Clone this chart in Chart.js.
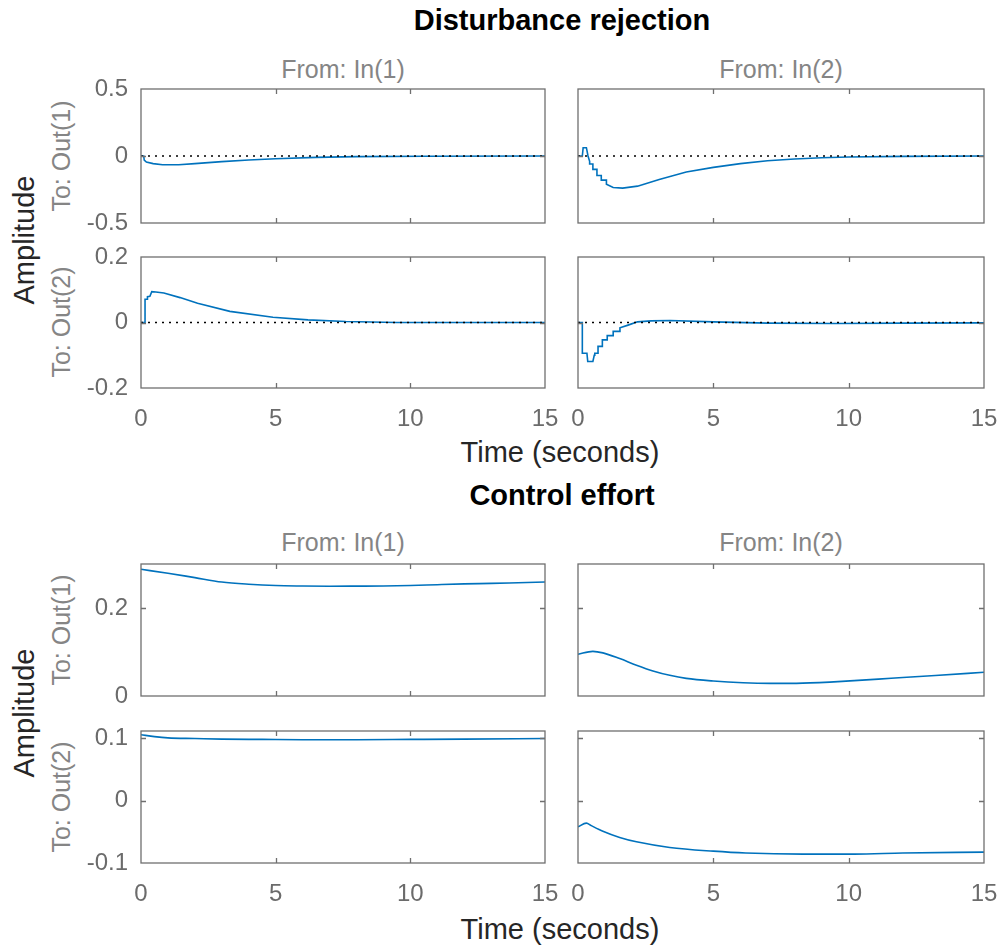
<!DOCTYPE html>
<html>
<head>
<meta charset="utf-8">
<script src="https://cdn.jsdelivr.net/npm/chart.js@4.4.1/dist/chart.umd.min.js"></script>
<style>
  body { margin: 0; background: #fff; width: 1001px; height: 948px; position: relative; overflow: hidden;
         font-family: "Liberation Sans", Arial, sans-serif; }
  canvas { position: absolute; }
  .t { position: absolute; white-space: nowrap; line-height: 1; transform: translate(-50%, -50%); }
  .rot { transform: translate(-50%, -50%) rotate(-90deg); }
  .title { font-weight: bold; font-size: 29px; color: #000; }
  .from { font-size: 25px; color: #858585; }
  .lab { font-size: 29px; color: #262626; }
</style>
</head>
<body>

<div class="t title" style="left:562px;top:20px">Disturbance rejection</div>
<div class="t from" style="left:343px;top:69px">From: In(1)</div>
<div class="t from" style="left:781px;top:69px">From: In(2)</div>
<div class="t from rot" style="left:61px;top:156px">To: Out(1)</div>
<div class="t from rot" style="left:61px;top:322px">To: Out(2)</div>
<div class="t lab rot" style="left:24px;top:240px">Amplitude</div>
<div class="t lab" style="left:560px;top:452px">Time (seconds)</div>

<div class="t title" style="left:562px;top:495px">Control effort</div>
<div class="t from" style="left:343px;top:542px">From: In(1)</div>
<div class="t from" style="left:781px;top:542px">From: In(2)</div>
<div class="t from rot" style="left:61px;top:630px">To: Out(1)</div>
<div class="t from rot" style="left:61px;top:797px">To: Out(2)</div>
<div class="t lab rot" style="left:24px;top:713px">Amplitude</div>
<div class="t lab" style="left:560px;top:929px">Time (seconds)</div>

<script>
// ---- ticks ----
const timeTicks = [0, 5, 10, 15];
const yTicksDist1 = [-0.5, 0, 0.5];
const yTicksDist2 = [-0.2, 0, 0.2];
const yTicksEff1 = [0, 0.2];
const yTicksEff2 = [-0.1, 0, 0.1];

// dotted zero reference
const zeroT = [0, 15];
const zeroY = [0, 0];

// ---- Disturbance rejection ----
// Out(1) <- In(1)
const tDist11 = [0, 0.1, 0.12, 0.2, 0.45, 0.8, 1.4, 2, 3, 4, 5, 6.5, 8, 10.5, 15];
const yDist11 = [0, 0, -0.03, -0.045, -0.057, -0.065, -0.065, -0.057, -0.042, -0.03, -0.02, -0.01, -0.005, -0.002, 0];
// Out(1) <- In(2)
const tDist12 = [0, 0.16, 0.19, 0.31, 0.37, 0.43, 0.43, 0.55, 0.55, 0.7, 0.7, 0.86, 0.86, 1.05, 1.05, 1.3, 1.65, 2.2, 3, 4, 5, 6, 7, 8, 9, 10, 12, 15];
const yDist12 = [0, 0, 0.062, 0.062, 0, -0.04, -0.06, -0.06, -0.1, -0.1, -0.145, -0.145, -0.18, -0.18, -0.21, -0.235, -0.24, -0.225, -0.175, -0.12, -0.085, -0.057, -0.036, -0.022, -0.013, -0.008, -0.003, 0];
// Out(2) <- In(1)
const tDist21 = [0, 0.15, 0.15, 0.24, 0.24, 0.33, 0.4, 0.55, 0.85, 1.45, 2.1, 3.3, 4.9, 6.2, 7.6, 9.5, 15];
const yDist21 = [0, 0, 0.071, 0.071, 0.079, 0.08, 0.094, 0.093, 0.09, 0.076, 0.059, 0.034, 0.016, 0.008, 0.003, 0, 0];
// Out(2) <- In(2)
const tDist22 = [0, 0.16, 0.16, 0.33, 0.36, 0.55, 0.6, 0.62, 0.74, 0.74, 0.9, 0.9, 1.08, 1.08, 1.3, 1.3, 1.55, 1.55, 1.85, 2.2, 2.7, 3.4, 5, 7, 9.5, 12, 15];
const yDist22 = [0, 0, -0.094, -0.094, -0.119, -0.119, -0.1, -0.094, -0.094, -0.073, -0.073, -0.053, -0.053, -0.04, -0.04, -0.027, -0.027, -0.016, -0.008, 0.002, 0.005, 0.006, 0.002, -0.002, -0.003, -0.002, -0.001];

// ---- Control effort ----
const tEff11 = [0, 1, 2, 3, 4, 5, 6, 7, 8, 9, 10, 11, 12, 13, 14, 15];
const yEff11 = [0.288, 0.279, 0.269, 0.259, 0.254, 0.251, 0.25, 0.2495, 0.2497, 0.25, 0.251, 0.253, 0.2548, 0.256, 0.2575, 0.259];
const tEff12 = [0, 0.55, 0.92, 1.54, 2.16, 2.77, 3.39, 4, 5, 6.1, 7.1, 8.3, 9.9, 11.1, 12, 13.2, 15];
const yEff12 = [0.095, 0.1015, 0.098, 0.085, 0.07, 0.057, 0.047, 0.04, 0.034, 0.03, 0.0286, 0.0293, 0.0338, 0.0383, 0.042, 0.0466, 0.054];
const tEff21 = [0, 0.5, 1, 2, 3, 4.5, 6, 8, 10, 12, 15];
const yEff21 = [0.106, 0.103, 0.101, 0.1, 0.099, 0.0985, 0.098, 0.098, 0.0985, 0.099, 0.1];
const tEff22 = [0, 0.31, 0.49, 0.92, 1.54, 2.16, 3.39, 5, 6.2, 8.3, 10.2, 12, 15];
const yEff22 = [-0.042, -0.036, -0.04, -0.049, -0.059, -0.066, -0.075, -0.081, -0.084, -0.0857, -0.0857, -0.084, -0.0825];

// ---- layout (pixels) ----
const colX = [[141, 545], [578, 984]];
const rowY = [[89, 223], [257, 388], [564, 696], [731, 863]];
// paddings are bigger than the label overflow chart.js reserves (half label + tick padding)
const AXW = 100, PT = 32, PR = 36, AXH = 50;

const blue = "#0072BD";
const axisGray = "#6f6f6f";

function pts(t, y) {
  return t.map((v, i) => ({ x: v, y: y[i] }));
}

const boxPlugin = {
  id: "matlabBox",
  afterDatasetsDraw(chart) {
    const { ctx, chartArea: a, scales } = chart;
    const tl = 5;
    ctx.save();
    ctx.strokeStyle = axisGray;
    ctx.lineWidth = 1.3;
    ctx.beginPath();
    scales.x.ticks.forEach(tk => {
      const px = Math.round(scales.x.getPixelForValue(tk.value)) + 0.5;
      if (px <= a.left + 1 || px >= a.right - 1) return;
      ctx.moveTo(px, a.top); ctx.lineTo(px, a.top + tl);
      ctx.moveTo(px, a.bottom); ctx.lineTo(px, a.bottom - tl);
    });
    scales.y.ticks.forEach(tk => {
      const py = Math.round(scales.y.getPixelForValue(tk.value)) + 0.5;
      if (py <= a.top + 1 || py >= a.bottom - 1) return;
      ctx.moveTo(a.left, py); ctx.lineTo(a.left + tl, py);
      ctx.moveTo(a.right, py); ctx.lineTo(a.right - tl, py);
    });
    ctx.stroke();
    ctx.strokeRect(a.left, a.top, a.right - a.left, a.bottom - a.top);
    ctx.restore();
  }
};

function makeChart(col, row, t, y, yMin, yMax, yTicks, showX, withZero, smooth) {
  const [x0, x1] = colX[col];
  const [y0, y1] = rowY[row];
  const cv = document.createElement("canvas");
  cv.width = AXW + (x1 - x0) + PR;
  cv.height = PT + (y1 - y0) + AXH;
  cv.style.left = (x0 - AXW) + "px";
  cv.style.top = (y0 - PT) + "px";
  document.body.appendChild(cv);

  const datasets = [{
    data: pts(t, y),
    borderColor: blue,
    borderWidth: 1.6,
    pointRadius: 0,
    tension: smooth ? 0.4 : 0,
    cubicInterpolationMode: smooth ? "monotone" : "default",
    fill: false
  }];
  if (withZero) {
    datasets.unshift({
      data: pts(zeroT, zeroY),
      borderColor: "#000",
      borderWidth: 1.3,
      borderDash: [2, 5],
      pointRadius: 0,
      fill: false
    });
  }

  new Chart(cv.getContext("2d"), {
    type: "line",
    data: { datasets: datasets },
    options: {
      responsive: false,
      animation: false,
      events: [],
      layout: { padding: { left: 0, top: PT, right: PR, bottom: 0 } },
      plugins: { legend: { display: false }, tooltip: { enabled: false } },
      scales: {
        x: {
          type: "linear",
          min: 0, max: 15,
          afterBuildTicks: s => { s.ticks = timeTicks.map(v => ({ value: v })); },
          afterFit: s => { s.height = AXH; },
          grid: { display: false, drawTicks: false },
          border: { display: false },
          ticks: {
            display: showX,
            padding: 17,
            maxRotation: 0,
            autoSkip: false,
            color: "#6b6b6b",
            font: { family: "Liberation Sans", size: 24 },
            callback: v => String(v)
          }
        },
        y: {
          type: "linear",
          min: yMin, max: yMax,
          afterBuildTicks: s => { s.ticks = yTicks.map(v => ({ value: v })); },
          afterFit: s => { s.width = AXW; },
          grid: { display: false, drawTicks: false },
          border: { display: false },
          ticks: {
            display: col === 0,
            padding: 13,
            color: "#6b6b6b",
            font: { family: "Liberation Sans", size: 24 },
            callback: v => String(v)
          }
        }
      }
    },
    plugins: [boxPlugin]
  });
}

// Disturbance rejection
makeChart(0, 0, tDist11, yDist11, -0.5, 0.5, yTicksDist1, false, true, false);
makeChart(1, 0, tDist12, yDist12, -0.5, 0.5, yTicksDist1, false, true, false);
makeChart(0, 1, tDist21, yDist21, -0.2, 0.2, yTicksDist2, true, true, false);
makeChart(1, 1, tDist22, yDist22, -0.2, 0.2, yTicksDist2, true, true, false);

// Control effort
makeChart(0, 2, tEff11, yEff11, 0, 0.3, yTicksEff1, false, false, true);
makeChart(1, 2, tEff12, yEff12, 0, 0.3, yTicksEff1, false, false, true);
makeChart(0, 3, tEff21, yEff21, -0.1, 0.112, yTicksEff2, true, false, true);
makeChart(1, 3, tEff22, yEff22, -0.1, 0.112, yTicksEff2, true, false, true);
</script>
</body>
</html>
